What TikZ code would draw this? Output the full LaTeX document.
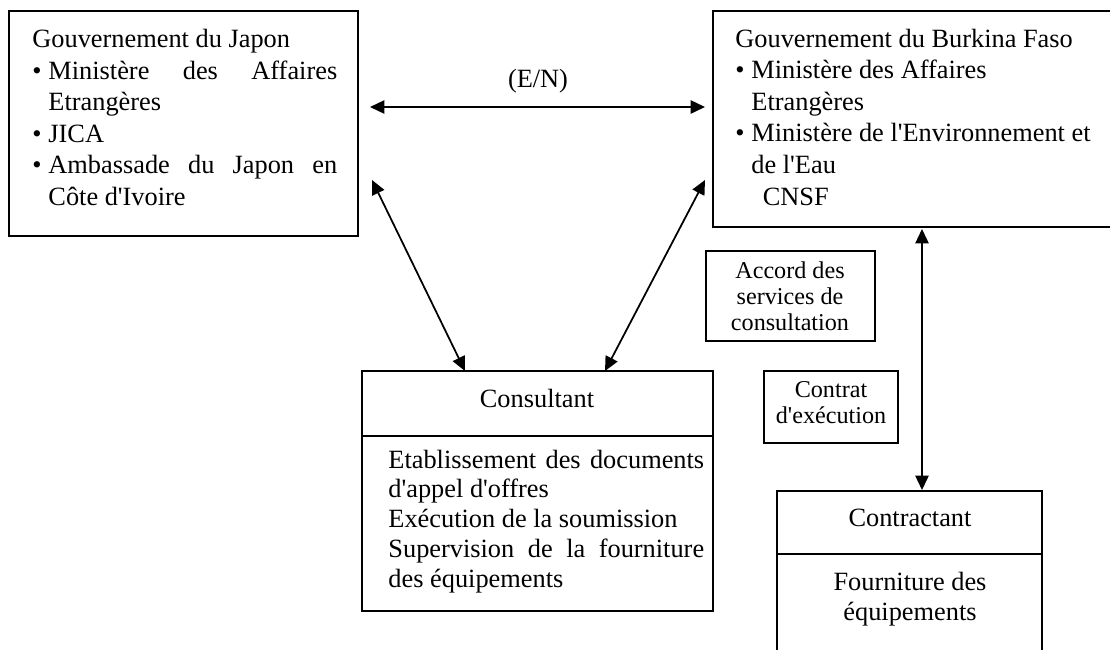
\documentclass[tikz,border=0pt]{standalone}
\usepackage{fontspec}
\setmainfont{Liberation Serif}[Ligatures=TeXOff]
\usetikzlibrary{arrows.meta,fit}
\setlength{\parindent}{0pt}
\hyphenpenalty=10000
\tolerance=10000
\newcommand{\puce}[1]{\hangindent=7.3pt\hangafter=1\noindent\makebox[7.3pt][l]{\textbullet}#1}
\tikzset{boite/.style={draw, line width=0.9pt, inner sep=0pt},
  texte/.style={inner sep=0pt, font=\fontsize{12}{14.4}\selectfont},
  petit/.style={inner sep=0pt, font=\fontsize{11}{11.8}\selectfont},
  fleche/.style={line width=0.8pt, {Triangle[length=6.5pt,width=6pt]}-{Triangle[length=6.5pt,width=6pt]}}}

\begin{document}
\begin{tikzpicture}[x=0.016cm,y=-0.016cm]
  \useasboundingbox (0,0) rectangle (1110,649);
  % cadres
  \node[boite, fit={(9,11) (358,236)}] (japon) {};
  \node[boite, fit={(713,11) (1125,227)}] (burkina) {};
  \node[boite, fit={(362,371) (713,611)}] (consultant) {};
  \node[boite, fit={(777,491) (1042,670)}] (contractant) {};
  \node[boite, fit={(706,251) (875,341)}] (accord) {};
  \node[boite, fit={(764,371) (898,443)}] (contrat) {};
  \draw[line width=0.9pt] (consultant.west |- 0,436) -- (consultant.east |- 0,436);
  \draw[line width=0.9pt] (contractant.west |- 0,554) -- (contractant.east |- 0,554);

  % textes
  \node[texte, anchor=base west, text width=138.8pt, align=justify] (japontxt) at (32,47.5) {%
    Gouvernement du Japon\par
    \puce{Ministère des Affaires Etrangères}\par
    \puce{JICA}\par
    \puce{Ambassade du Japon en Côte d'Ivoire}\par};
  \node[texte, anchor=base west] (burkinatxt) at (735,47) {%
    \begin{tabular}[t]{@{}p{7.3pt}@{}l@{}}
      \multicolumn{2}{@{}l@{}}{Gouvernement du Burkina Faso}\\
      \textbullet & Ministère des Affaires\\
                  & Etrangères\\
      \textbullet & Ministère de l'Environnement et\\
                  & de l'Eau\\
                  & \hspace*{5.2pt}CNSF
    \end{tabular}};
  \node[texte, anchor=base] (consultanttit) at (537,407) {Consultant};
  \node[texte, anchor=base west, text width=143.8pt, align=justify, font=\fontsize{12}{13.65}\selectfont] (consultanttxt) at (388,468) {%
    Etablissement des documents d'appel d'offres\par
    Exécution de la soumission\par
    Supervision de la fourniture des équipements\par};
  \node[texte, anchor=base] (contractanttit) at (910,526) {Contractant};
  \node[texte, anchor=base, align=center, font=\fontsize{12}{13.65}\selectfont] (contractanttxt) at (910,620) {Fourniture des\\équipements};
  \node[petit, anchor=base, align=center] (accordtxt) at (790,330) {Accord des\\services de\\consultation};
  \node[petit, anchor=base, align=center] (contrattxt) at (831,423) {Contrat\\d'exécution};
  \node[texte, anchor=base] (en) at (538,87) {(E/N)};

  % fleches
  \coordinate (enG) at (370,107);
  \coordinate (enD) at (705,107);
  \coordinate (jpDiag) at (372,180);
  \coordinate (coG) at (465,371);
  \coordinate (bfDiag) at (705,180);
  \coordinate (coD) at (605,371);
  \coordinate (bfBas) at (922,229);
  \draw[fleche] (enG) -- (enD);
  \draw[fleche] (jpDiag) -- (coG);
  \draw[fleche] (bfDiag) -- (coD);
  \draw[fleche] (bfBas) -- (bfBas |- contractant.north);
\end{tikzpicture}
\end{document}
